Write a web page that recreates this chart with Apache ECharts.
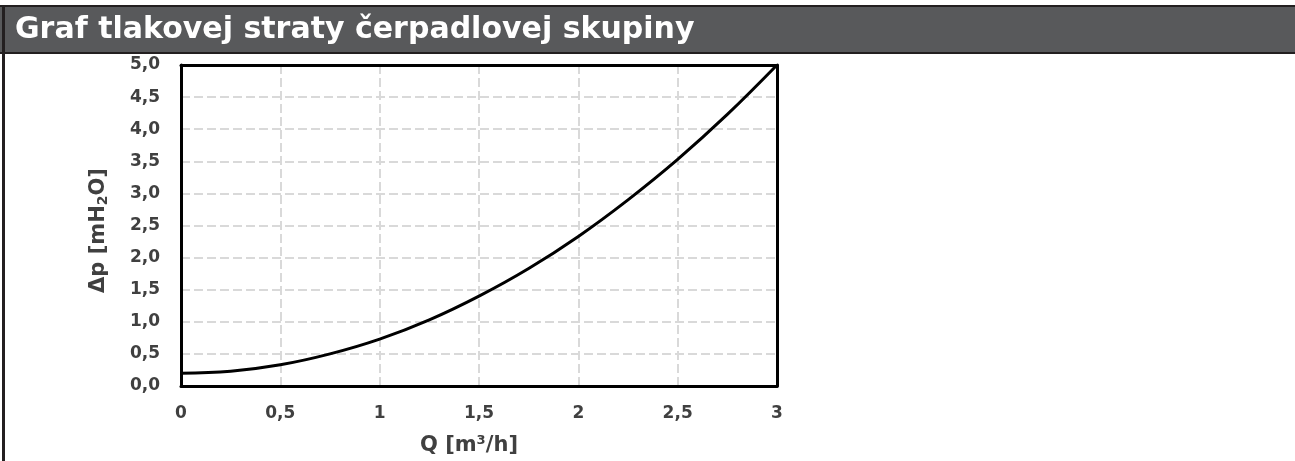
<!DOCTYPE html>
<html>
<head>
<meta charset="utf-8">
<script src="https://cdn.jsdelivr.net/npm/echarts@6/dist/echarts.min.js"></script>
<style>
html,body{margin:0;padding:0;background:#fff;}
#c{width:1295px;height:461px;}
</style>
</head>
<body>
<div id="c"></div>
<script>
const titleText = 'Graf tlakovej straty čerpadlovej skupiny';
const flowQ = [0, 0.25, 0.5, 0.75, 1, 1.25, 1.5, 1.75, 2, 2.25, 2.5, 2.75, 3];
const pressureDrop = [0.20, 0.23, 0.33, 0.50, 0.73, 1.03, 1.40, 1.83, 2.33, 2.90, 3.53, 4.23, 5.00];
const xAxisName = 'Q [m³/h]';
const yAxisNameRich = 'Δp [mH{sub|2}O]';

const chart = echarts.init(document.getElementById('c'), null, {renderer: 'canvas'});
const FONT = '"DejaVu Sans", Verdana, sans-serif';
const TXT = '#404040';
const GRIDC = '#d9d9d9';
const seriesData = flowQ.map((q, i) => [q, pressureDrop[i]]);
const frameLine = {show: true, onZero: false, lineStyle: {color: '#000', width: 3}};

chart.setOption({
  backgroundColor: '#ffffff',
  animation: false,
  grid: {left: 181, right: 518, top: 65, bottom: 67, show: false},
  xAxis: [{
    type: 'value', min: 0, max: 3, interval: 0.5, position: 'bottom',
    name: xAxisName, nameLocation: 'middle', nameGap: 49,
    nameTextStyle: {color: TXT, fontFamily: FONT, fontWeight: 'bold', fontSize: 21, padding: [0, 20, 0, 0]},
    axisLine: frameLine, axisTick: {show: false},
    axisLabel: {color: TXT, fontFamily: FONT, fontWeight: 'bold', fontSize: 17, margin: 19,
      formatter: v => String(v).replace('.', ',')},
    splitLine: {show: true, lineStyle: {color: GRIDC, width: 2, type: [9, 4]}}
  }, {
    type: 'value', min: 0, max: 3, interval: 0.5, position: 'top',
    axisLine: frameLine, axisTick: {show: false}, axisLabel: {show: false}, splitLine: {show: false}
  }],
  yAxis: [{
    type: 'value', min: 0, max: 5, interval: 0.5, position: 'left',
    name: yAxisNameRich, nameLocation: 'middle', nameGap: 71, nameRotate: 90,
    nameTextStyle: {color: TXT, fontFamily: FONT, fontWeight: 'bold', fontSize: 21, padding: [0, 10, 0, 0],
      rich: {sub: {fontSize: 14, fontWeight: 'bold', fontFamily: FONT, color: TXT, verticalAlign: 'bottom', padding: [9, 0, 0, 0]}}},
    axisLine: frameLine, axisTick: {show: false},
    axisLabel: {color: TXT, fontFamily: FONT, fontWeight: 'bold', fontSize: 17, margin: 21,
      formatter: v => v.toFixed(1).replace('.', ',')},
    splitLine: {show: true, lineStyle: {color: GRIDC, width: 2, type: [9, 4]}}
  }, {
    type: 'value', min: 0, max: 5, interval: 0.5, position: 'right',
    axisLine: frameLine, axisTick: {show: false}, axisLabel: {show: false}, splitLine: {show: false}
  }],
  series: [{
    type: 'line', data: seriesData, smooth: 0.4, showSymbol: false,
    lineStyle: {color: '#000', width: 3}, z: 3
  }],
  graphic: [
    {type: 'rect', shape: {x: 0, y: 5, width: 1295, height: 49}, style: {fill: '#231f20'}, z: 10},
    {type: 'rect', shape: {x: 0, y: 7, width: 1295, height: 45}, style: {fill: '#58595b'}, z: 11},
    {type: 'rect', shape: {x: 2, y: 5, width: 3, height: 456}, style: {fill: '#231f20'}, z: 12},
    {type: 'text', x: 15, y: 30, style: {text: titleText, fill: '#ffffff', font: 'bold 30px ' + FONT, textVerticalAlign: 'middle'}, z: 13}
  ]
});
</script>
</body>
</html>
